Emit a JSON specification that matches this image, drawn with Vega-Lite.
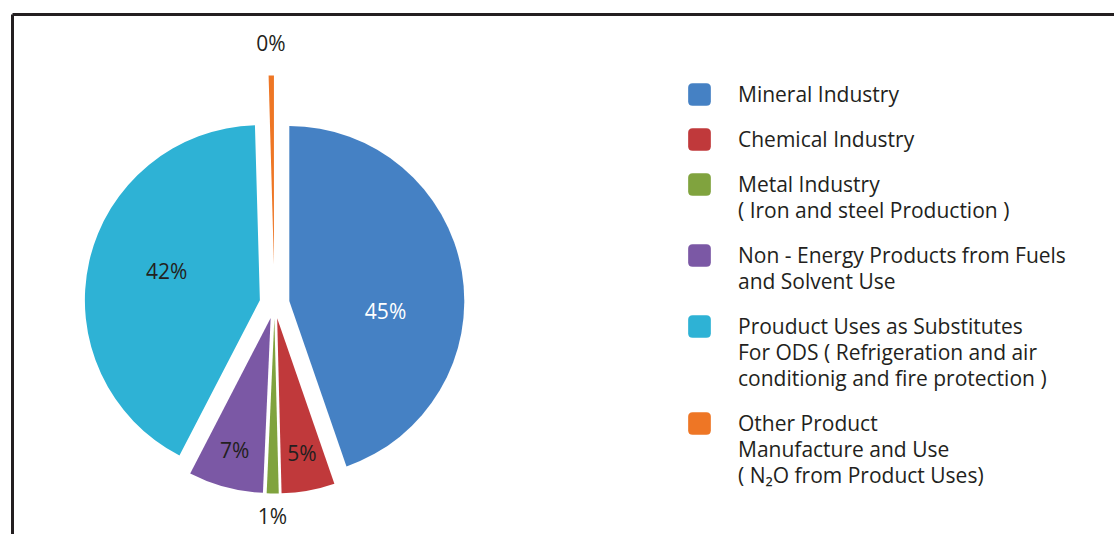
{
  "$schema": "https://vega.github.io/schema/vega-lite/v6.json",
  "width": 1102,
  "height": 520,
  "padding": {"left": 12, "top": 14, "right": 0, "bottom": 0},
  "autosize": {"type": "none"},
  "background": "white",
  "config": {"view": {"stroke": null}, "font": "Open Sans"},
  "data": {
    "values": [
      {"idx": 1, "category": "Mineral Industry", "value": 44.7},
      {"idx": 2, "category": "Chemical Industry", "value": 4.9},
      {"idx": 3, "category": "Metal Industry\n( Iron and steel Production )", "value": 1.1},
      {"idx": 4, "category": "Non - Energy Products from Fuels\nand Solvent Use", "value": 6.9},
      {"idx": 5, "category": "Prouduct Uses as Substitutes\nFor ODS ( Refrigeration and air\nconditionig and fire protection )", "value": 41.95},
      {"idx": 6, "category": "Other Product\nManufacture and Use\n ( N₂O from Product Uses)", "value": 0.45}
    ]
  },
  "transform": [
    {"joinaggregate": [{"op": "sum", "field": "value", "as": "total"}]},
    {"window": [{"op": "sum", "field": "value", "as": "cum"}], "sort": [{"field": "idx"}], "frame": [null, 0]},
    {"calculate": "2*PI*(datum.cum - datum.value)/datum.total", "as": "a0"},
    {"calculate": "2*PI*datum.cum/datum.total", "as": "a1"},
    {"calculate": "(datum.a0 + datum.a1)/2", "as": "mid"},
    {"calculate": "datum.value < 1 ? 38 : 15", "as": "off"},
    {"calculate": "datum.value < 1 ? 190 : 175", "as": "rad"},
    {"calculate": "sin(datum.mid)*datum.off", "as": "cx"},
    {"calculate": "cos(datum.mid)*datum.off", "as": "cy"},
    {"calculate": "datum.value < 1 ? 221 : datum.value < 2 ? 200 : datum.value < 20 ? 139 : 97", "as": "lr"},
    {"calculate": "datum.mid + (datum.value > 44 ? 0.29 : datum.value > 40 ? 0.06 : 0)", "as": "la"},
    {"calculate": "datum.cx + sin(datum.la)*datum.lr", "as": "lx"},
    {"calculate": "datum.cy + cos(datum.la)*datum.lr", "as": "ly"},
    {"calculate": "format(datum.value, '.0f') + '%'", "as": "pct"}
  ],
  "layer": [
    {
      "mark": {"type": "arc"},
      "encoding": {
        "theta": {"field": "a0", "type": "quantitative", "scale": null, "stack": null},
        "theta2": {"field": "a1"},
        "radius": {"field": "rad", "type": "quantitative", "scale": null},
        "x": {
          "field": "cx", "type": "quantitative",
          "scale": {"domain": [-262.5, 839.5], "nice": false, "zero": false},
          "axis": {"orient": "top", "domain": true, "domainColor": "#231f20", "domainWidth": 3, "ticks": false, "labels": false, "grid": false, "title": null}
        },
        "y": {
          "field": "cy", "type": "quantitative",
          "scale": {"domain": [-230.5, 289.5], "nice": false, "zero": false},
          "axis": {"orient": "left", "domain": true, "domainColor": "#231f20", "domainWidth": 3, "ticks": false, "labels": false, "grid": false, "title": null}
        },
        "color": {
          "field": "category", "type": "nominal",
          "scale": {
            "domain": [
              "Mineral Industry",
              "Chemical Industry",
              "Metal Industry\n( Iron and steel Production )",
              "Non - Energy Products from Fuels\nand Solvent Use",
              "Prouduct Uses as Substitutes\nFor ODS ( Refrigeration and air\nconditionig and fire protection )",
              "Other Product\nManufacture and Use\n ( N₂O from Product Uses)"
            ],
            "range": ["#4581c4", "#c0393b", "#80a33e", "#7b58a5", "#2eb2d5", "#ee7625"]
          },
          "legend": {
            "orient": "none",
            "legendX": 676,
            "legendY": 69,
            "title": null,
            "padding": 0,
            "symbolType": "M-0.6,-1H0.6Q1,-1,1,-0.6V0.6Q1,1,0.6,1H-0.6Q-1,1,-1,0.6V-0.6Q-1,-1,-0.6,-1Z",
            "symbolSize": 515,
            "symbolStrokeWidth": 0,
            "symbolOpacity": 1,
            "labelFontSize": 21,
            "labelFont": "Open Sans",
            "labelColor": "#231f20",
            "labelOffset": 27,
            "labelBaseline": "top",
            "labelLimit": 500,
            "labelExpr": "split(datum.label, '\\n')",
            "rowPadding": 22,
            "encode": {"labels": {"update": {"dy": {"value": -10}, "lineHeight": {"value": 26}}}}
          }
        }
      }
    },
    {
      "mark": {"type": "text", "fontSize": 21, "font": "Open Sans", "align": "center", "baseline": "middle"},
      "encoding": {
        "x": {"field": "lx", "type": "quantitative"},
        "y": {"field": "ly", "type": "quantitative"},
        "text": {"field": "pct"},
        "color": {"condition": {"test": "datum.value > 44", "value": "white"}, "value": "#231f20"}
      }
    }
  ]
}
